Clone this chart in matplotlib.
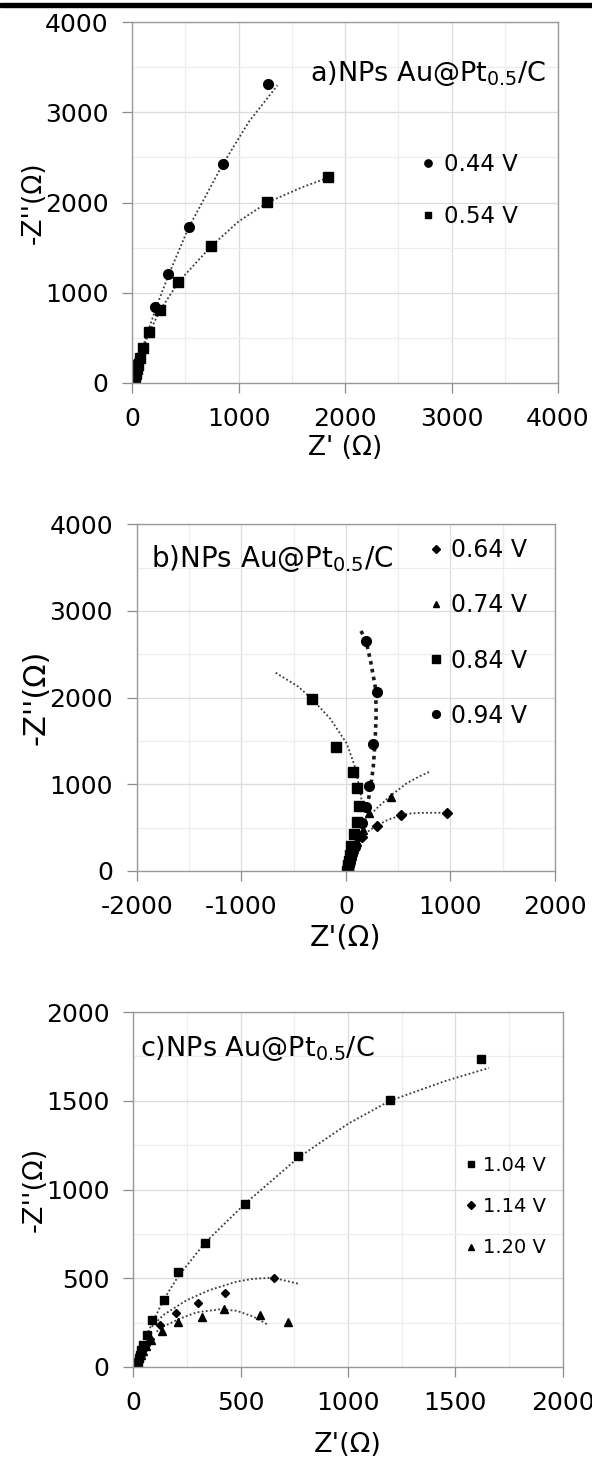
import numpy as np
import matplotlib
matplotlib.use('Agg')
import matplotlib.pyplot as plt
from matplotlib.ticker import MultipleLocator
from matplotlib.patches import Rectangle

plt.rcParams['font.family'] = ['DejaVu Sans']
plt.rcParams['mathtext.default'] = 'regular'
plt.rcParams['axes.unicode_minus'] = False

# ---- panel a : 0.44 V / 0.54 V ----
a044_x = [18, 22, 27, 33, 40, 48, 58, 213, 337, 532, 851, 1277]
a044_y = [5, 20, 45, 80, 120, 170, 230, 842, 1204, 1728, 2430, 3317]
a054_x = [12, 16, 21, 27, 34, 42, 52, 74, 101, 159, 264, 432, 738, 1270, 1837]
a054_y = [2, 15, 40, 70, 105, 150, 200, 273, 392, 570, 807, 1123, 1518, 2006, 2283]
# trend lines
a044_fit_x = [10, 60, 140, 230, 340, 530, 850, 1100, 1365]
a044_fit_y = [0, 250, 540, 850, 1190, 1720, 2420, 2900, 3298]
a054_fit_x = [10, 60, 160, 266, 436, 738, 1000, 1270, 1600, 1897]
a054_fit_y = [0, 250, 560, 810, 1120, 1510, 1790, 2000, 2170, 2300]

# ---- panel b : 0.64 / 0.74 / 0.84 / 0.94 V ----
b064_x = [15, 20, 26, 33, 42, 55, 80, 151, 295, 527, 971]
b064_y = [3, 25, 55, 90, 130, 180, 260, 396, 523, 642, 673]
b074_x = [15, 20, 26, 33, 42, 55, 75, 110, 160, 225, 432]
b074_y = [3, 25, 55, 90, 130, 180, 250, 340, 470, 673, 850]
b084_x = [14, 18, 23, 29, 36, 46, 78, 110, 129, 110, 65, -94, -321]
b084_y = [3, 30, 70, 120, 190, 292, 427, 569, 750, 961, 1146, 1434, 1981]
b094_x = [16, 21, 28, 36, 46, 60, 85, 113, 151, 193, 225, 263, 295, 195]
b094_y = [3, 30, 65, 105, 150, 200, 280, 404, 557, 735, 981, 1461, 2062, 2654]
b064_fit_x = [150, 210, 295, 400, 527, 600, 700, 850, 980]
b064_fit_y = [395, 455, 523, 590, 642, 662, 670, 672, 672]
b074_fit_x = [183, 215, 295, 432, 582, 700, 809]
b074_fit_y = [588, 626, 723, 873, 1012, 1090, 1150]
b084_fit_x = [-671, -455, -321, -152, 8, 87, 135, 161]
b084_fit_y = [2288, 2127, 1981, 1761, 1473, 1203, 934, 742]
b094_fit_x = [145, 193, 240, 285, 290, 280, 262, 235, 205]
b094_fit_y = [2769, 2657, 2400, 2100, 1800, 1500, 1200, 950, 750]

# ---- panel c : 1.04 / 1.14 / 1.20 V ----
c104_x = [12, 16, 20, 25, 31, 37, 47, 62, 88, 141, 209, 334, 519, 769, 1196, 1618]
c104_y = [3, 15, 30, 50, 70, 95, 124, 180, 265, 379, 538, 701, 918, 1188, 1503, 1734]
c114_x = [12, 16, 21, 27, 35, 45, 60, 80, 124, 199, 300, 427, 655]
c114_y = [3, 15, 30, 50, 70, 95, 125, 160, 237, 302, 362, 417, 501]
c120_x = [12, 16, 21, 27, 35, 45, 60, 82, 132, 210, 319, 424, 589, 722]
c120_y = [3, 15, 30, 48, 68, 90, 118, 150, 203, 255, 283, 325, 295, 252]
c104_fit_x = [10, 62, 141, 209, 334, 519, 769, 1000, 1196, 1450, 1657]
c104_fit_y = [0, 180, 379, 510, 700, 918, 1180, 1370, 1500, 1610, 1685]
c114_fit_x = [86, 140, 249, 357, 481, 560, 650, 773]
c114_fit_y = [227, 293, 377, 434, 481, 497, 503, 468]
c120_fit_x = [109, 124, 210, 295, 404, 481, 559, 629]
c120_fit_y = [199, 218, 269, 308, 325, 317, 284, 237]

W, H = 592, 1458
fig = plt.figure(figsize=(W / 100, H / 100), dpi=100)

# black rule at the very top
fig.patches.append(Rectangle((0, 1 - 7 / H), 1, 4 / H, transform=fig.transFigure,
                             color='black', zorder=10))


def add_axes(left, top, right, bottom):
    return fig.add_axes([left / W, 1 - bottom / H, (right - left) / W, (bottom - top) / H])


def style(ax, xlim, ylim, xmaj, ymaj, xmin, ymin):
    ax.set_xlim(xlim)
    ax.set_ylim(ylim)
    ax.xaxis.set_major_locator(MultipleLocator(xmaj))
    ax.yaxis.set_major_locator(MultipleLocator(ymaj))
    ax.xaxis.set_minor_locator(MultipleLocator(xmin))
    ax.yaxis.set_minor_locator(MultipleLocator(ymin))
    ax.grid(which='major', color='#dcdcdc', lw=0.9)
    ax.grid(which='minor', color='#ededed', lw=0.9)
    ax.set_axisbelow(True)
    ax.tick_params(which='major', direction='out', length=7, width=0.9, color='#8c8c8c',
                   labelsize=18, pad=10)
    ax.tick_params(which='minor', length=0)
    for s in ax.spines.values():
        s.set_color('#9a9a9a')
        s.set_linewidth(1.0)


dot = dict(color='#3a3a3a', ls=(0, (1, 1.3)), lw=1.3)

# ===== panel a =====
ax = add_axes(132.1, 22, 558.0, 383)
style(ax, (0, 4000), (0, 4000), 1000, 1000, 500, 500)
ax.plot(a044_fit_x, a044_fit_y, **dot)
ax.plot(a054_fit_x, a054_fit_y, **dot)
h1, = ax.plot(a044_x, a044_y, 'o', color='k', ms=7, ls='none')
h2, = ax.plot(a054_x, a054_y, 's', color='k', ms=6.5, ls='none')
ax.legend([h1, h2], ['0.44 V', '0.54 V'], loc='upper left', bbox_to_anchor=(0.678, 0.638),
          frameon=False, handlelength=0.6, handletextpad=0.4, labelspacing=1.28,
          borderpad=0, borderaxespad=0, fontsize=16.5, markerscale=0.75, numpoints=1)
ax.set_xlabel("Z' (Ω)", fontsize=19)
ax.set_ylabel("-Z''(Ω)", fontsize=19)
ax.xaxis.set_label_coords(0.5, -0.18)
ax.xaxis.label.set_va('center')
ax.yaxis.set_label_coords(-0.23, 0.5)
ax.yaxis.label.set_va('center')
fig.text(310 / W, 1 - 81 / H, r'a)NPs Au@Pt$_{0.5}$/C', fontsize=19.5, ha='left', va='baseline')

# ===== panel b =====
ax = add_axes(136.7, 524.3, 555.0, 871)
style(ax, (-2000, 2000), (0, 4000), 1000, 1000, 500, 500)
ax.plot(b064_fit_x, b064_fit_y, **dot)
ax.plot(b074_fit_x, b074_fit_y, **dot)
ax.plot(b084_fit_x, b084_fit_y, **dot)
ax.plot(b094_fit_x, b094_fit_y, color='#1a1a1a', ls=(0, (1, 1.2)), lw=2.6)
h1, = ax.plot(b064_x, b064_y, 'D', color='k', ms=5, ls='none')
h2, = ax.plot(b074_x, b074_y, '^', color='k', ms=6, ls='none')
h3, = ax.plot(b084_x, b084_y, 's', color='k', ms=6.5, ls='none')
h4, = ax.plot(b094_x, b094_y, 'o', color='k', ms=7, ls='none')
ax.legend([h1, h2, h3, h4], ['0.64 V', '0.74 V', '0.84 V', '0.94 V'], loc='upper left',
          bbox_to_anchor=(0.699, 0.960), frameon=False, handlelength=0.6, handletextpad=0.34,
          labelspacing=1.32, borderpad=0, borderaxespad=0, fontsize=17, markerscale=0.8,
          numpoints=1)
ax.set_xlabel("Z'(Ω)", fontsize=20.5)
ax.set_ylabel("-Z''(Ω)", fontsize=22)
ax.xaxis.set_label_coords(0.5, -0.193)
ax.xaxis.label.set_va('center')
ax.yaxis.set_label_coords(-0.241, 0.5)
ax.yaxis.label.set_va('center')
fig.text(151 / W, 1 - 567 / H, r'b)NPs Au@Pt$_{0.5}$/C', fontsize=20, ha='left', va='baseline')

# ===== panel c =====
ax = add_axes(133.3, 1012, 562.6, 1367)
style(ax, (0, 2000), (0, 2000), 500, 500, 250, 250)
ax.plot(c104_fit_x, c104_fit_y, **dot)
ax.plot(c114_fit_x, c114_fit_y, **dot)
ax.plot(c120_fit_x, c120_fit_y, **dot)
h1, = ax.plot(c104_x, c104_y, 's', color='k', ms=6, ls='none')
h2, = ax.plot(c114_x, c114_y, 'D', color='k', ms=4.5, ls='none')
h3, = ax.plot(c120_x, c120_y, '^', color='k', ms=5.5, ls='none')
ax.legend([h1, h2, h3], ['1.04 V', '1.14 V', '1.20 V'], loc='upper left',
          bbox_to_anchor=(0.773, 0.595), frameon=False, handlelength=0.6, handletextpad=0.32,
          labelspacing=1.15, borderpad=0, borderaxespad=0, fontsize=14, markerscale=0.8,
          numpoints=1)
ax.set_xlabel("Z'(Ω)", fontsize=19.5)
ax.set_ylabel("-Z''(Ω)", fontsize=19.5)
ax.xaxis.set_label_coords(0.5, -0.22)
ax.xaxis.label.set_va('center')
ax.yaxis.set_label_coords(-0.231, 0.5)
ax.yaxis.label.set_va('center')
fig.text(140 / W, 1 - 1056 / H, r'c)NPs Au@Pt$_{0.5}$/C', fontsize=19.5, ha='left', va='baseline')

fig.savefig('out.png', dpi=100)
